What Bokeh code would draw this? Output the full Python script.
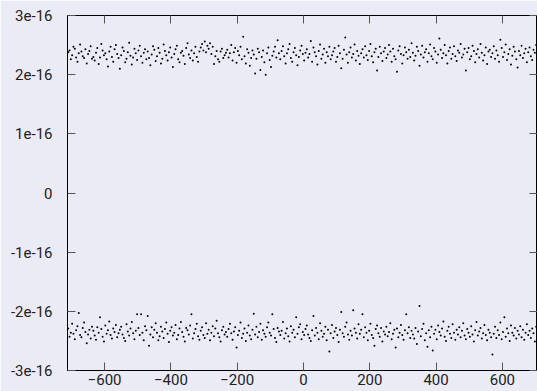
from bokeh.plotting import figure
from bokeh.models import Range1d, LinearAxis, FixedTicker, CustomJSTickFormatter, ColumnDataSource
from bokeh.embed import file_html
from bokeh.resources import INLINE

# x positions: regular sampling grid from -710 to 710, step 4
x_start = -710
x_step = 4

# values in units of 1e-18
upper = [
    238, 241, 226, 233, 247, 244, 229, 222, 236, 251, 239, 231, 228, 243, 219, 235, 240, 248, 227, 230,
    224, 237, 245, 218, 229, 252, 241, 233, 236, 226, 214, 239, 247, 230, 222, 243, 250, 235, 228, 210,
    233, 246, 240, 221, 227, 238, 254, 232, 217, 229, 244, 236, 225, 241, 249, 231, 220, 237, 243, 226,
    239, 228, 216, 234, 248, 242, 223, 231, 245, 237, 219, 227, 251, 240, 233, 224, 238, 246, 229, 213,
    235, 243, 249, 226, 221, 237, 240, 232, 218, 245, 253, 234, 228, 241, 224, 236, 247, 230, 222, 239,
    246, 252, 241, 256, 238, 249, 244, 253, 235, 247, 218, 231, 240, 226, 222, 239, 244, 228, 233, 237,
    242, 229, 236, 250, 224, 238, 245, 220, 240, 233, 247, 226, 264, 231, 219, 243, 237, 215, 228, 241,
    234, 202, 227, 244, 238, 208, 230, 241, 221, 200, 236, 246, 225, 213, 232, 239, 247, 229, 258, 236,
    226, 240, 248, 231, 219, 236, 243, 252, 228, 222, 238, 245, 233, 216, 230, 241, 249, 235, 224, 237,
    243, 229, 235, 257, 222, 246, 238, 231, 217, 240, 251, 227, 234, 244, 220, 238, 231, 247, 226, 233,
    239, 245, 222, 230, 249, 236, 211, 227, 242, 263, 234, 220, 238, 246, 229, 235, 251, 224, 240, 232,
    218, 236, 243, 229, 248, 233, 225, 240, 252, 231, 221, 238, 244, 207, 230, 247, 236, 223, 239, 245,
    228, 234, 250, 239, 222, 244, 231, 226, 205, 241, 248, 235, 219, 233, 246, 238, 227, 242, 230, 253,
    237, 224, 232, 247, 240, 215, 234, 249, 229, 238, 243, 222, 236, 251, 231, 226, 245, 239, 220, 234,
    261, 242, 228, 236, 250, 233, 219, 240, 246, 227, 235, 248, 231, 223, 241, 237, 252, 229, 234, 244,
    207, 238, 245, 226, 231, 249, 240, 221, 235, 243, 229, 252, 237, 224, 233, 246, 218, 239, 242, 230,
    236, 248, 227, 241, 233, 222, 259, 245, 230, 238, 251, 225, 235, 243, 217, 232, 247, 239, 226, 212,
    240, 233, 249, 228, 236, 244, 221, 238, 246, 231, 225, 242, 237, 250, 229, 235,
]

lower = [
    -229, -243, -236, -221, -238, -247, -232, -225, -203, -240, -244, -228, -219, -235, -254, -239, -231, -246, -226, -233,
    -241, -248, -227, -236, -210, -230, -243, -251, -224, -238, -232, -217, -240, -246, -229, -235, -223, -244, -237, -231,
    -226, -239, -245, -250, -222, -234, -241, -229, -218, -237, -247, -233, -205, -228, -240, -205, -236, -249, -225, -232,
    -208, -258, -239, -227, -244, -231, -220, -236, -249, -242, -226, -234, -245, -230, -219, -238, -252, -233, -227, -241,
    -236, -223, -247, -240, -229, -218, -235, -243, -251, -228, -232, -239, -224, -205, -246, -237, -230, -221, -242, -248,
    -233, -227, -240, -245, -220, -238, -231, -249, -236, -225, -242, -229, -216, -237, -244, -251, -232, -226, -239, -235,
    -243, -230, -221, -237, -248, -234, -227, -261, -240, -233, -219, -245, -238, -229, -250, -236, -224, -241, -247, -231,
    -204, -239, -226, -244, -235, -221, -248, -232, -238, -243, -227, -219, -236, -241, -205, -230, -245, -252, -228, -234,
    -240, -233, -218, -246, -237, -229, -242, -251, -225, -236, -231, -244, -210, -238, -227, -222, -247, -235, -240, -230,
    -224, -239, -245, -250, -232, -208, -241, -228, -236, -247, -220, -233, -243, -238, -226, -249, -231, -268, -237, -223,
    -245, -234, -228, -240, -252, -231, -201, -237, -243, -226, -219, -239, -248, -233, -241, -198, -229, -236, -246, -222,
    -238, -231, -205, -244, -227, -236, -249, -233, -221, -240, -245, -258, -230, -224, -237, -243, -228, -251, -234, -239,
    -226, -242, -235, -220, -247, -238, -231, -261, -229, -244, -236, -223, -240, -248, -232, -205, -237, -227, -245, -233,
    -239, -246, -228, -255, -234, -191, -242, -230, -221, -249, -237, -260, -232, -244, -226, -266, -238, -231, -247, -224,
    -235, -241, -229, -217, -243, -250, -233, -226, -238, -245, -222, -236, -248, -231, -239, -227, -244, -233, -220, -241,
    -247, -230, -236, -243, -225, -239, -251, -232, -218, -241, -234, -228, -246, -237, -223, -240, -249, -231, -236, -244,
    -273, -238, -226, -245, -232, -240, -219, -247, -235, -210, -243, -229, -237, -250, -224, -236, -241, -228, -246, -233,
    -239, -225, -244, -231, -248, -236, -222, -240, -233, -245, -229, -237, -251, -226, -234, -242,
]

x_ticks = [-600, -400, -200, 0, 200, 400, 600]
y_ticks = [-3e-16, -2e-16, -1e-16, 0, 1e-16, 2e-16, 3e-16]

unit = 1e-18
xs = [x_start + x_step * i for i in range(len(upper))]
xs2 = [x_start + x_step * i for i in range(len(lower))]

bg = "#ebebf5"
font = "Roboto"

p = figure(width=537, height=391, output_backend="svg", toolbar_location=None,
           x_range=Range1d(-712, 706), y_range=Range1d(-3e-16, 3e-16),
           min_border_left=67, min_border_right=0, min_border_top=15, min_border_bottom=21,
           background_fill_color=bg, border_fill_color=bg)
p.grid.visible = False
p.outline_line_color = "black"
p.outline_line_width = 1

src_u = ColumnDataSource(dict(x=xs, y=[v * unit for v in upper]))
src_l = ColumnDataSource(dict(x=xs2, y=[v * unit for v in lower]))
p.scatter("x", "y", source=src_u, size=2, color="black", line_color=None)
p.scatter("x", "y", source=src_l, size=2, color="black", line_color=None)

yfmt = CustomJSTickFormatter(code="""
const k = Math.round(tick * 1e16);
return k === 0 ? "0" : (k + "e-16");
""")
blank = CustomJSTickFormatter(code='return "";')

def style(ax, labels=True):
    ax.major_tick_in = 8
    ax.major_tick_out = 0
    ax.minor_tick_in = 0
    ax.minor_tick_out = 0
    ax.minor_tick_line_color = None
    ax.major_tick_line_color = "#555555"
    ax.axis_line_color = "black"
    if labels:
        ax.major_label_text_font = font
        ax.major_label_text_font_size = "15px"
        ax.major_label_text_color = "#222222"
    else:
        ax.formatter = blank
        ax.major_label_text_font_size = "1px"
        ax.major_label_standoff = 0

xa = p.xaxis[0]
xa.ticker = FixedTicker(ticks=x_ticks)
style(xa)
xa.major_label_standoff = 3

ya = p.yaxis[0]
ya.ticker = FixedTicker(ticks=y_ticks)
ya.formatter = yfmt
style(ya)
ya.major_label_standoff = 15

top = LinearAxis(ticker=FixedTicker(ticks=x_ticks))
style(top, labels=False)
p.add_layout(top, "above")

right = LinearAxis(ticker=FixedTicker(ticks=y_ticks))
style(right, labels=False)
p.add_layout(right, "right")

open("out.html", "w").write(file_html(p, INLINE))
